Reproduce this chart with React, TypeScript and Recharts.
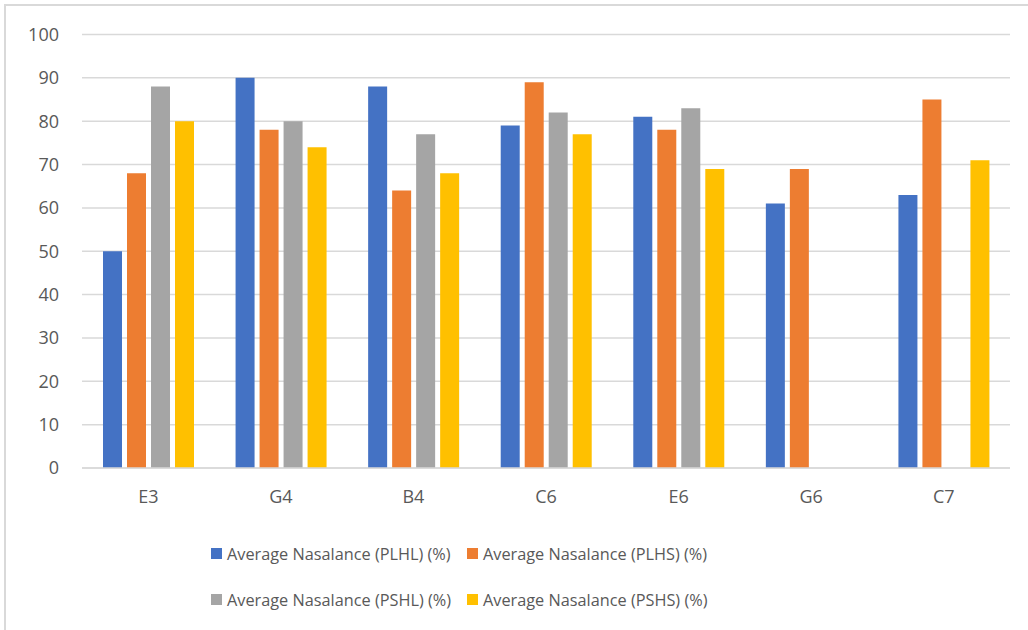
import React from "react";
import { BarChart, Bar, XAxis, YAxis, CartesianGrid, Legend } from "recharts";

// Vowel / speaker categories along the x axis
const categories = ["E3", "G4", "B4", "C6", "E6", "G6", "C7"];

// Average nasalance per condition (%); null where no value was recorded
const plhl = [50, 90, 88, 79, 81, 61, 63];
const plhs = [68, 78, 64, 89, 78, 69, 85];
const pshl: (number | null)[] = [88, 80, 77, 82, 83, null, null];
const pshs: (number | null)[] = [80, 74, 68, 77, 69, null, 71];

const yTicks = [0, 10, 20, 30, 40, 50, 60, 70, 80, 90, 100];

const seriesNames = [
  "Average Nasalance (PLHL) (%)",
  "Average Nasalance (PLHS) (%)",
  "Average Nasalance (PSHL) (%)",
  "Average Nasalance (PSHS) (%)",
];
const seriesKeys = ["plhl", "plhs", "pshl", "pshs"];
const seriesColors = ["#4472C4", "#ED7D31", "#A5A5A5", "#FFC000"];

const data = categories.map((name, i) => ({
  name,
  plhl: plhl[i],
  plhs: plhs[i],
  pshl: pshl[i],
  pshs: pshs[i],
}));

const FONT = "'Open Sans', 'DejaVu Sans', sans-serif";
const TEXT = "#595959";

// Two-row legend laid out in two columns
const legendContent = () => {
  const cols = [211, 467];
  const rows = [20, 66];
  return (
    <div style={{ position: "relative", width: 1028, height: 90 }}>
      {seriesNames.map((label, i) => (
        <div
          key={label}
          style={{
            position: "absolute",
            left: cols[i % 2],
            top: rows[Math.floor(i / 2)] - 5,
            height: 21,
            display: "flex",
            alignItems: "center",
            fontFamily: FONT,
            fontSize: 16.3,
            color: TEXT,
            whiteSpace: "nowrap",
          }}
        >
          <span
            style={{
              display: "inline-block",
              width: 11,
              height: 11,
              background: seriesColors[i],
              marginRight: 5,
            }}
          />
          {label}
        </div>
      ))}
    </div>
  );
};

export default function App() {
  return (
    <div
      style={{
        position: "absolute",
        left: 0,
        top: 0,
        width: 1028,
        height: 630,
        background: "#fff",
        overflow: "hidden",
      }}
    >
      <div
        style={{
          position: "absolute",
          left: 4,
          top: 4,
          width: 1040,
          height: 640,
          border: "2px solid #d9d9d9",
          boxSizing: "border-box",
        }}
      />
      <div style={{ position: "absolute", left: 0, top: 0 }}>
        <BarChart
          width={1028}
          height={630}
          data={data}
          margin={{ top: 34.5, right: 18, left: 22, bottom: 32 }}
          barSize={19}
          barGap={5}
        >
          <CartesianGrid
            vertical={false}
            stroke="#d9d9d9"
            strokeWidth={1.5}
          />
          <XAxis
            dataKey="name"
            height={40}
            axisLine={{ stroke: "#d9d9d9", strokeWidth: 1.5 }}
            tickLine={false}
            tickSize={0}
            tickMargin={22}
            tick={{ fill: TEXT, fontSize: 18, fontFamily: FONT }}
          />
          <YAxis
            width={60}
            domain={[0, 100]}
            ticks={yTicks}
            axisLine={false}
            tickLine={false}
            tickSize={0}
            tickMargin={23}
            tick={{ fill: TEXT, fontSize: 18, fontFamily: FONT }}
          />
          <Legend
            verticalAlign="bottom"
            content={legendContent}
            wrapperStyle={{ left: 0, top: 528, bottom: "auto", width: 1028 }}
          />
          {seriesKeys.map((k, i) => (
            <Bar
              key={k}
              dataKey={k}
              name={seriesNames[i]}
              fill={seriesColors[i]}
              isAnimationActive={false}
            />
          ))}
        </BarChart>
      </div>
    </div>
  );
}
